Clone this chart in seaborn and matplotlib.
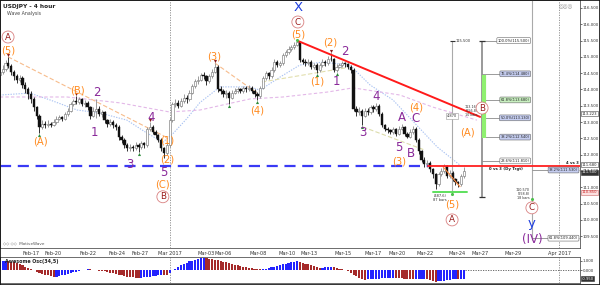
import numpy as np
import pandas as pd
import matplotlib
matplotlib.use("Agg")
import matplotlib.pyplot as plt
import matplotlib.transforms as mtransforms
from matplotlib.patches import Rectangle
import seaborn as sns

# ---------------- data ----------------
first_index = -11
first_open = 114.45
closes = [
    114.55, 114.62, 114.80, 114.72, 114.55, 114.40, 114.30, 114.35, 114.15, 114.00,
    113.85, 113.70, 113.45, 113.20, 112.85, 112.95, 112.90, 112.95, 112.92, 113.00,
    113.10, 113.15, 113.10, 113.25, 113.35, 113.55, 113.65, 113.62, 113.70, 113.55,
    113.60, 113.45, 113.20, 113.35, 113.40, 113.25, 113.30, 113.05, 112.95, 113.00,
    112.90, 112.85, 112.55, 112.45, 112.30, 112.20, 112.25, 112.20, 112.30, 112.25,
    112.35, 112.30, 112.80, 112.85, 112.70, 112.60, 112.45, 112.20, 112.05, 112.30,
    113.05, 113.55, 113.60, 113.50, 113.65, 113.75, 113.70, 113.90, 114.10, 114.25,
    114.30, 114.45, 114.40, 114.25, 114.40, 114.55, 114.70, 114.00, 113.95, 113.85,
    113.90, 113.75, 113.90, 113.95, 114.00, 113.95, 114.05, 114.00, 114.05, 113.95,
    113.85, 113.80, 114.05, 114.35, 114.50, 114.40, 114.60, 114.85, 114.75, 114.80,
    115.05, 115.15, 115.25, 115.30, 115.38, 115.45, 114.90, 114.85, 114.80, 114.85,
    114.70, 114.75, 114.60, 114.75, 114.85, 114.80, 114.95, 114.92, 114.60, 114.70,
    114.75, 114.80, 114.78, 114.70, 114.60, 113.40, 113.30, 113.35, 113.20, 113.35,
    113.30, 113.45, 113.40, 113.50, 113.25, 112.90, 112.80, 112.75, 112.70, 112.78,
    112.65, 112.80, 112.85, 112.65, 112.55, 112.70, 112.80, 112.45, 112.10, 111.85,
    111.70, 111.75, 111.55, 111.40, 111.10, 111.40, 111.50, 111.65, 111.35, 111.45,
    111.25, 111.15, 111.10, 111.35, 111.50,
]
highs = [
    114.65, 114.75, 114.90, 115.00, 114.78, 114.60, 114.48, 114.45, 114.40, 114.22,
    114.08, 113.95, 113.78, 113.50, 113.25, 113.05, 113.02, 113.05, 113.00, 113.10,
    113.18, 113.22, 113.20, 113.32, 113.42, 113.62, 113.72, 113.80, 113.78, 113.75,
    113.68, 113.65, 113.50, 113.45, 113.70, 113.48, 113.38, 113.35, 113.10, 113.08,
    113.05, 112.98, 112.90, 112.60, 112.50, 112.35, 112.32, 112.30, 112.38, 112.35,
    112.42, 112.40, 112.85, 113.00, 112.90, 112.75, 112.65, 112.50, 112.25, 112.38,
    113.12, 113.62, 113.70, 113.68, 113.75, 113.85, 113.82, 113.98, 114.18, 114.32,
    114.40, 114.52, 114.55, 114.45, 114.48, 114.62, 114.82, 114.75, 114.10, 114.02,
    113.98, 113.95, 113.98, 114.05, 114.08, 114.05, 114.12, 114.10, 114.15, 114.10,
    114.00, 113.92, 114.12, 114.42, 114.58, 114.55, 114.68, 114.92, 114.90, 114.88,
    115.12, 115.22, 115.32, 115.38, 115.45, 115.50, 115.48, 114.98, 114.92, 114.92,
    114.90, 114.82, 114.80, 114.82, 114.92, 114.90, 115.02, 115.12, 114.98, 114.78,
    114.82, 114.88, 114.85, 114.82, 114.75, 114.65, 113.48, 113.45, 113.40, 113.42,
    113.42, 113.52, 113.52, 113.58, 113.55, 113.30, 112.95, 112.85, 112.80, 112.85,
    112.82, 112.88, 112.95, 112.88, 112.70, 112.78, 112.88, 112.85, 112.50, 112.15,
    111.92, 111.85, 111.80, 111.60, 111.45, 111.48, 111.58, 111.72, 111.68, 111.52,
    111.50, 111.30, 111.20, 111.42, 111.62,
]
lows = [
    114.35, 114.48, 114.58, 114.65, 114.45, 114.30, 114.20, 114.22, 114.05, 113.90,
    113.70, 113.60, 113.35, 113.10, 112.66, 112.78, 112.82, 112.85, 112.85, 112.88,
    112.95, 113.05, 113.02, 113.05, 113.20, 113.30, 113.48, 113.55, 113.55, 113.48,
    113.45, 113.38, 113.10, 113.15, 113.12, 113.18, 113.15, 112.98, 112.85, 112.88,
    112.82, 112.75, 112.45, 112.35, 112.20, 112.12, 112.12, 112.12, 112.15, 112.08,
    112.18, 112.22, 112.25, 112.72, 112.62, 112.50, 112.38, 112.12, 111.90, 112.00,
    112.25, 113.00, 113.45, 113.42, 113.45, 113.58, 113.60, 113.65, 113.85, 114.05,
    114.18, 114.25, 114.32, 114.15, 114.20, 114.35, 114.50, 113.92, 113.85, 113.78,
    113.75, 113.55, 113.70, 113.85, 113.88, 113.88, 113.90, 113.92, 113.95, 113.88,
    113.78, 113.68, 113.75, 114.00, 114.28, 114.32, 114.35, 114.55, 114.68, 114.70,
    114.75, 115.00, 115.10, 115.18, 115.25, 115.32, 114.85, 114.78, 114.72, 114.75,
    114.62, 114.62, 114.50, 114.55, 114.70, 114.72, 114.75, 114.88, 114.55, 114.55,
    114.65, 114.70, 114.70, 114.62, 114.52, 113.35, 113.20, 113.22, 112.90, 113.15,
    113.22, 113.25, 113.32, 113.35, 113.18, 112.85, 112.72, 112.68, 112.62, 112.65,
    112.58, 112.60, 112.75, 112.58, 112.50, 112.52, 112.65, 112.40, 112.02, 111.78,
    111.62, 111.62, 111.48, 111.30, 110.95, 111.05, 111.35, 111.45, 111.28, 111.30,
    111.18, 111.08, 111.00, 111.05, 111.30,
]
ao_values = [
    0.95, 1.00, 1.02, 0.98, 0.92, 0.85, 0.75, 0.62, 0.50, 0.38,
    0.25, 0.10, -0.05, -0.20, -0.32, -0.42, -0.52, -0.60, -0.68, -0.75,
    -0.72, -0.66, -0.58, -0.50, -0.42, -0.34, -0.26, -0.18, -0.10, -0.02,
    0.05, 0.09, 0.07, 0.03, -0.02, -0.06, -0.10, -0.15, -0.20, -0.28,
    -0.36, -0.44, -0.52, -0.60, -0.67, -0.73, -0.78, -0.83, -0.86, -0.88,
    -0.85, -0.82, -0.78, -0.74, -0.70, -0.65, -0.60, -0.56, -0.58, -0.60,
    -0.35, -0.05, 0.15, 0.35, 0.52, 0.68, 0.82, 0.95, 1.05, 1.14,
    1.22, 1.30, 1.33, 1.30, 1.26, 1.20, 1.14, 1.07, 1.00, 0.92,
    0.84, 0.76, 0.68, 0.60, 0.52, 0.45, 0.38, 0.32, 0.26, 0.20,
    0.15, 0.10, 0.06, 0.08, 0.14, 0.22, 0.30, 0.38, 0.46, 0.54,
    0.62, 0.70, 0.78, 0.84, 0.90, 0.95, 0.90, 0.82, 0.72, 0.62,
    0.50, 0.40, 0.30, 0.24, 0.27, 0.30, 0.32, 0.34, 0.30, 0.22,
    0.14, 0.06, -0.02, -0.15, -0.32, -0.50, -0.68, -0.85, -1.00, -1.08,
    -1.05, -1.02, -1.00, -0.97, -0.95, -0.93, -0.91, -0.89, -0.87, -0.85,
    -0.88, -0.91, -0.94, -0.97, -1.00, -1.03, -1.05, -1.02, -0.99, -0.97,
    -0.95, -1.05, -1.15, -1.25, -1.30, -1.26, -1.22, -1.18, -1.14, -1.10,
    -1.05, -1.00, -1.02, -0.98, -0.95,
]
date_labels = ["Feb-17", "Feb-20", "Feb-22", "Feb-24", "Feb-27", "Mar 2017", "Mar-03",
               "Mar-06", "Mar-08", "Mar-10", "Mar-13", "Mar-15", "Mar-17", "Mar-20",
               "Mar-22", "Mar-24", "Mar-27", "Mar-29", "Apr 2017"]
date_index = [0, 7.8, 20.1, 30.4, 38.5, 49.1, 61.8, 67.8, 80.2, 90.5, 98.2, 110.2,
              120.8, 129.3, 139.2, 150.5, 158.7, 170.3, 186.6]
price_ticks = [109.5, 110.0, 110.5, 111.0, 111.5, 112.0, 112.5, 113.0, 113.5,
               114.0, 114.5, 115.0, 115.5, 116.0, 116.5]
fast_ma_index = [-11, -0.4, 6.7, 16.3, 24.4, 33.9, 40.3, 46.6, 50.2, 55, 59.7, 66.8,
                 77.4, 80.9, 88, 95, 103, 112.7, 119.8, 127.9, 143.5, 151.6]
fast_ma_price = [113.83, 113.89, 113.68, 113.37, 113.28, 113.06, 112.70, 112.38, 112.65,
                 113.10, 113.60, 114.08, 114.08, 113.98, 114.38, 114.75, 114.84, 114.75,
                 114.14, 113.68, 112.24, 111.68]
slow_ma_index = [-11, 12.7, 31.4, 49, 59.7, 77.4, 89, 104.6, 113.8, 130.4, 142, 157.6]
slow_ma_price = [113.77, 113.77, 113.59, 113.31, 113.37, 113.71, 113.77, 113.92, 114.05,
                 113.83, 113.46, 113.06]

# wave labels: (text, candle index, price, style)
wave_labels = [
    ("A", -8.1, 115.61, "circle"), ("(5)", -8.1, 115.21, "orange"),
    ("(A)", 3.2, 112.42, "orange"), ("(B)", 16.3, 113.98, "orange"),
    ("2", 23.3, 113.92, "purple"), ("1", 22.3, 112.67, "purple"),
    ("3", 35.0, 111.71, "purple"), ("4", 42.4, 113.13, "purple"),
    ("(1)", 48.1, 112.45, "orange"), ("(2)", 48.1, 111.84, "orange"),
    ("5", 47.0, 111.46, "purple"), ("(C)", 46.6, 111.10, "orange"),
    ("B", 46.6, 110.71, "circle"), ("(3)", 64.7, 115.00, "orange"),
    ("(4)", 79.9, 113.37, "orange"), ("X", 94.3, 116.50, "blue"),
    ("C", 94.3, 116.07, "circle"), ("(5)", 94.3, 115.70, "orange"),
    ("(1)", 101.1, 114.23, "orange"), ("(2)", 105.7, 115.43, "orange"),
    ("1", 108.1, 114.26, "purple"), ("2", 111.0, 115.15, "purple"),
    ("3", 117.3, 112.67, "purple"), ("4", 121.9, 113.77, "purple"),
    ("A", 131.1, 113.13, "purple"), ("5", 130.0, 112.21, "purple"),
    ("B", 134.3, 112.05, "purple"), ("(4)", 136.0, 113.46, "orange"),
    ("C", 136.0, 113.10, "purple"), ("(3)", 130.0, 111.78, "orange"),
    ("(A)", 154.1, 112.68, "orange"), ("B", 159.4, 113.43, "circle"),
    ("(5)", 148.8, 110.46, "orange"), ("A", 148.8, 110.00, "circle"),
    ("C", 177.0, 110.37, "circle"), ("y", 177.0, 109.90, "blue"),
    ("(IV)", 177.0, 109.41, "purple"),
]
pivot_low_index = [3, 38, 70, 80, 101, 108, 117]
pivot_high_index = [-8, 16, 42, 65, 106]

fib_prices = [115.50, 114.48, 113.68, 113.13, 112.54, 111.81]
fib_texts = ["100.0%(115.500)", "76.4%(114.480)", "61.8%(113.680)", "50.0%(113.130)",
             "38.2%(112.540)", "23.6%(111.810)"]
fib_fill = ["white", "#c5cdf0", "#c8f0c0", "#c5cdf0", "#c5cdf0", "white"]
ext_prices = [111.53, 109.44]
ext_texts = ["38.2%(111.530)", "61.8%(109.440)"]
ext_fill = ["#c5cdf0", "white"]
target_level = 111.65
low_level = 110.85

# ---------------- figure ----------------
sns.set_theme(style="white")
plt.rcParams["font.family"] = ["DejaVu Sans"]

W, H = 600, 285


def rect(x0, y0, x1, y1):
    return [x0 / W, 1 - y1 / H, (x1 - x0) / W, (y1 - y0) / H]


fig = plt.figure(figsize=(W / 100, H / 100), dpi=100)
fig.patch.set_facecolor("white")
ax = fig.add_axes(rect(0, 0, 580, 248))
ao = fig.add_axes(rect(0, 257, 580, 283))
XL = (-10.95, 194.0)
for a in (ax, ao):
    a.set_facecolor("white")
    a.set_xlim(*XL)
    for s in a.spines.values():
        s.set_color("#555555")
        s.set_linewidth(0.6)
ax.set_ylim(109.138, 116.745)
ao.set_ylim(-1.44, 1.44)

# candles
n = len(closes)
idx = np.arange(first_index, first_index + n)
df = pd.DataFrame({"i": idx, "open": [first_open] + closes[:-1], "close": closes,
                   "high": highs, "low": lows})
up = (df["close"] >= df["open"]).values
ax.vlines(df["i"], df["low"], df["high"], colors=np.where(up, "#8a8a8a", "#111111"),
          lw=0.6, zorder=3)
body = (df["close"] - df["open"]).abs().clip(lower=0.012)
bottom = df[["open", "close"]].min(axis=1)
ax.bar(df["i"][up], body[up], bottom=bottom[up], width=0.8, color="white",
       edgecolor="#7a7a7a", linewidth=0.45, zorder=4)
ax.bar(df["i"][~up], body[~up], bottom=bottom[~up], width=0.8, color="#111111",
       edgecolor="#111111", linewidth=0.3, zorder=4)

# moving averages
sns.lineplot(x=fast_ma_index, y=fast_ma_price, ax=ax, color="#a9c2f2", lw=0.8,
             linestyle=(0, (1.2, 1.2)), legend=False, zorder=2)
sns.lineplot(x=slow_ma_index, y=slow_ma_price, ax=ax, color="#e3b8e8", lw=0.8,
             linestyle=(0, (3, 2)), legend=False, zorder=2)

# channel lines
ax.plot([-8.1, 48.4], [115.0, 112.51], color="#f7bc8c", lw=0.8, ls=(0, (4, 2)), zorder=2)
ax.plot([65, 79.9], [114.81, 113.89], color="#f7bc8c", lw=0.8, ls=(0, (4, 2)), zorder=2)
ax.plot([81.6, 111], [114.23, 114.66], color="#e2dfae", lw=0.8, ls=(0, (4, 2)), zorder=2)
ax.plot([117.3, 139.2], [112.85, 112.14], color="#dcdcaa", lw=0.8, ls=(0, (4, 2)), zorder=2)
ax.plot([145.6, 151.6], [111.63, 111.02], color="#ff8c40", lw=0.8, zorder=5)

# horizontal target line (blue dashed then red)
ax.plot([XL[0], 140.3], [target_level, target_level], color="#3a3af5", lw=1.6,
        ls=(0, (5, 3)), zorder=5)
ax.plot([140.3, XL[1]], [target_level, target_level], color="#ff2020", lw=1.3, zorder=5)
ax.text(168, target_level - 0.03, "0 vs 3 (Dy Trgt)", fontsize=2.8, ha="center",
        va="top", color="#222222", fontweight="bold", zorder=9)
ax.text(191.5, target_level + 0.04, "4 vs 3", fontsize=2.8, ha="center", va="bottom",
        color="#222222", fontweight="bold", zorder=9)

# low line
ax.plot([142, 154], [low_level, low_level], color="#5de05d", lw=1.4, zorder=5)
ax.text(144.5, low_level - 0.07, "(487.6)\n87 bars", fontsize=2.6, ha="center",
        va="top", color="#333333", linespacing=1.0, zorder=9)

# red trend line
ax.plot([94.3, 158.7], [115.49, 113.16], color="#ff1a1a", lw=1.4, zorder=6)

# fib tools
ax.vlines(148.8, 110.76, 115.5, color="#aaaaaa", lw=0.8, zorder=3)
ax.hlines(115.5, 147.9, 149.7, color="#333333", lw=0.8, zorder=4)
ax.text(149.9, 115.5, "115.500", fontsize=2.6, va="center", ha="left", color="#333333")
ax.text(148.8, 113.18, "4.870", fontsize=2.6, ha="center", va="center", color="#333333",
        bbox=dict(boxstyle="square,pad=0.3", fc="white", ec="#999999", lw=0.4), zorder=7)
ax.vlines(159.4, 110.70, 115.5, color="#999999", lw=1.4, zorder=3)
for yy in (115.5, 110.70):
    ax.hlines(yy, 158.2, 160.6, color="#333333", lw=0.9, zorder=4)
ax.vlines(160.1, 112.51, 114.44, color="#8ff070", lw=3.0, zorder=4)
for p, t, fc in zip(fib_prices, fib_texts, fib_fill):
    ax.hlines(p, 159.4, 175.5, color="#8a8a8a", lw=0.6, zorder=3)
    ax.text(176.2, p, t, fontsize=2.6, ha="right", va="center", color="#222222",
            bbox=dict(boxstyle="round,pad=0.25", fc=fc, ec="#666666", lw=0.4), zorder=7)
ax.text(158.0, 113.33, "113.160\n(256.8)\n10 bars", fontsize=2.4, ha="right", va="center",
        color="#333333", linespacing=1.0, zorder=9)

ax.vlines(177.0, 109.38, 116.745, color="#aaaaaa", lw=0.8, zorder=3)
for p, t, fc in zip(ext_prices, ext_texts, ext_fill):
    ax.hlines(p, 177.0, 193.5, color="#8a8a8a", lw=0.6, zorder=3)
    ax.text(193.3, p, t, fontsize=2.6, ha="right", va="center", color="#222222",
            bbox=dict(boxstyle="round,pad=0.25", fc=fc, ec="#666666", lw=0.4), zorder=7)
ax.text(176.3, 110.78, "110.570\n(258.8)\n18 bars", fontsize=2.4, ha="right", va="center",
        color="#333333", linespacing=1.0, zorder=9)

# period separators
for a in (ax, ao):
    for d in (49.1, 186.6):
        a.axvline(d, color="#888888", lw=0.6, ls=(0, (1.5, 1.5)), zorder=1)

# pivot markers
piv = df.set_index("i")
ax.scatter(pivot_low_index, piv.loc[pivot_low_index, "low"].values - 0.06,
           marker="^", s=5, color="#2e8b3a", zorder=7, linewidths=0)
ax.scatter(pivot_high_index, piv.loc[pivot_high_index, "high"].values + 0.06,
           marker="v", s=5, color="#8b1a1a", zorder=7, linewidths=0)
ax.scatter([94, 148.8, 177.0], [115.52, 110.78, 110.64], marker="o", s=5,
           color="#4cc04c", zorder=7, linewidths=0)

# wave labels
styles = {
    "orange": dict(color="#ff8a1e", fontsize=7.2),
    "purple": dict(color="#8a2a9a", fontsize=8.5),
    "blue": dict(color="#1f3fe0", fontsize=9.5),
}
for t, i, p, st in wave_labels:
    if st == "circle":
        ax.text(i, p, t, ha="center", va="center", fontsize=6.3, color="#9b1c1c", zorder=9,
                bbox=dict(boxstyle="circle,pad=0.17", fc="white", ec="#d98080", lw=0.6))
    else:
        ax.text(i, p, t, ha="center", va="center", zorder=9, **styles[st])

# axes ticks
ax.yaxis.tick_right()
ax.set_yticks(price_ticks)
ax.set_yticklabels([f"{v:.3f}" for v in price_ticks])
ax.tick_params(axis="y", labelsize=2.9, length=1.2, pad=0.5, colors="#333333", width=0.5)
ax.set_xticks(date_index)
ax.set_xticklabels(date_labels)
ax.tick_params(axis="x", labelsize=3.6, length=1.5, pad=0.6, colors="#333333", width=0.5,
               direction="out")
ax.set_xlabel("")
ax.set_ylabel("")

# right-axis value boxes
bt = mtransforms.blended_transform_factory(ax.transAxes, ax.transData)
box_kw = dict(transform=bt, fontsize=2.7, va="center", ha="left", zorder=10)
ax.text(1.003, 113.25, "113.223", color="#222222",
        bbox=dict(boxstyle="square,pad=0.12", fc="white", ec="#444444", lw=0.4), **box_kw)
ax.text(1.003, 111.69, "111.680", color="#222222",
        bbox=dict(boxstyle="square,pad=0.12", fc="white", ec="#444444", lw=0.4), **box_kw)
ax.text(1.003, closes[-1] - 0.04, f"{closes[-1]:.3f}", color="white",
        bbox=dict(boxstyle="square,pad=0.12", fc="#333333", ec="#333333", lw=0.4), **box_kw)
ax.text(1.003, low_level, "110.850", color="#cc2222",
        bbox=dict(boxstyle="square,pad=0.12", fc="#fbe0e0", ec="#cc6666", lw=0.4), **box_kw)

# titles and decorations
ax.text(0.006, 0.985, "USDJPY - 4 hour", transform=ax.transAxes, fontsize=4.2,
        fontweight="bold", ha="left", va="top", color="#222222")
ax.text(0.012, 0.955, "Wave Analysis", transform=ax.transAxes, fontsize=3.4,
        ha="left", va="top", color="#444444")
ax.text(0.006, 0.012, "\u25c7\u25c7 \u25c7\u25c7  MotiveWave", transform=ax.transAxes,
        fontsize=3.0, ha="left", va="bottom", color="#555555")
ax.text(0.975, 0.985, "\u25ce\u25ce\u25ce", transform=ax.transAxes, fontsize=4,
        ha="center", va="top", color="#999999")

# Awesome oscillator
ao_idx = np.arange(first_index, first_index + len(ao_values))
ao_arr = np.array(ao_values)
rising = np.concatenate([[True], ao_arr[1:] >= ao_arr[:-1]])
ao.bar(ao_idx, ao_arr, width=0.75, color=np.where(rising, "#2323ff", "#a52a2a"),
       linewidth=0, zorder=3)
ao.hlines(0, ao_idx[-1] + 0.5, XL[1], color="#555555", lw=0.6, ls=(0, (1.5, 1.5)))
ao.yaxis.tick_right()
ao.set_yticks([1.0, 0.0])
ao.set_yticklabels(["1.000", "0.000"])
ao.tick_params(axis="y", labelsize=2.9, length=1.2, pad=0.5, colors="#333333", width=0.5)
ao.set_xticks([])
ao.text(0.008, 0.93, "Awesome Osc(34,5)", transform=ao.transAxes, fontsize=3.4,
        ha="left", va="top", color="#222222", fontweight="bold", zorder=9)
bt2 = mtransforms.blended_transform_factory(ao.transAxes, ao.transData)
ao.text(1.003, ao_values[-1], f"{ao_values[-1]:.3f}", transform=bt2, fontsize=2.7,
        va="center", ha="left", color="white",
        bbox=dict(boxstyle="square,pad=0.12", fc="#333333", ec="#333333", lw=0.4))

# outer frame
fig.patches.append(Rectangle((0, 0), 1, 1, transform=fig.transFigure, fill=False,
                             ec="#111111", lw=1.2))

fig.savefig("out.png", dpi=100, facecolor="white")
